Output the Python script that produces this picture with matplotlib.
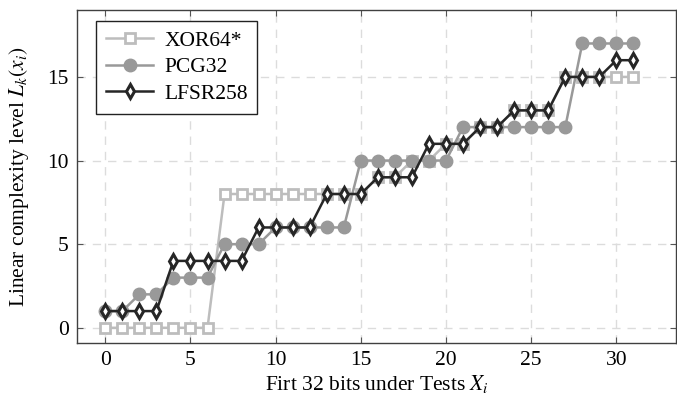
import matplotlib
matplotlib.use("Agg")
import matplotlib.pyplot as plt

plt.rcParams['font.family'] = ['Liberation Serif', 'DejaVu Serif']
plt.rcParams['mathtext.fontset'] = 'stix'
plt.rcParams['font.size'] = 15.5

bits = list(range(32))
xor64 = [0, 0, 0, 0, 0, 0, 0, 8, 8, 8, 8, 8, 8, 8, 8, 8,
         9, 9, 10, 10, 11, 11, 12, 12, 13, 13, 13, 15, 15, 15, 15, 15]
pcg32 = [1, 1, 2, 2, 3, 3, 3, 5, 5, 5, 6, 6, 6, 6, 6, 10,
         10, 10, 10, 10, 10, 12, 12, 12, 12, 12, 12, 12, 17, 17, 17, 17]
lfsr258 = [1, 1, 1, 1, 4, 4, 4, 4, 4, 6, 6, 6, 6, 8, 8, 8,
           9, 9, 9, 11, 11, 11, 12, 12, 13, 13, 13, 15, 15, 15, 16, 16]

fig, ax = plt.subplots(figsize=(6.77, 4.01), dpi=100)
fig.subplots_adjust(left=0.114, right=0.9985, bottom=0.145, top=0.975)

ax.plot(bits, xor64, color='#bdbdbd', lw=1.8, marker='s', ms=7,
        mfc='white', mec='#bdbdbd', mew=2.0, label='XOR64*')
ax.plot(bits, pcg32, color='#999999', lw=1.8, marker='o', ms=9,
        mfc='#999999', mec='#999999', label='PCG32')
ax.plot(bits, lfsr258, color='#262626', lw=1.8, marker='d', ms=7.5,
        mfc='white', mec='#262626', mew=2.2, label='LFSR258')

ax.set_xlim(-1.65, 33.5)
ax.set_ylim(-0.9, 19.0)
ax.set_xticks([0, 5, 10, 15, 20, 25, 30])
ax.set_yticks([0, 5, 10, 15])
ax.grid(True, color='#dcdcdc', ls=(0, (6, 5)), lw=1.0)
ax.tick_params(direction='in', length=4, color='#555555', top=True, right=True,
               pad=6)
for s in ax.spines.values():
    s.set_color('#404040')
    s.set_linewidth(1.0)

ax.set_xlabel('Firt 32 bits under Tests $X_i$', labelpad=2)
ax.set_ylabel('Linear complexity level $L_k(x_i)$', labelpad=12)

leg = ax.legend(loc='upper left', bbox_to_anchor=(0.032, 0.967), fancybox=False,
                edgecolor='#222222', framealpha=1, handlelength=2.2,
                borderpad=0.45, labelspacing=0.3, handletextpad=0.5,
                borderaxespad=0)
leg.get_frame().set_linewidth(1.0)

fig.savefig('out.png', dpi=100)
